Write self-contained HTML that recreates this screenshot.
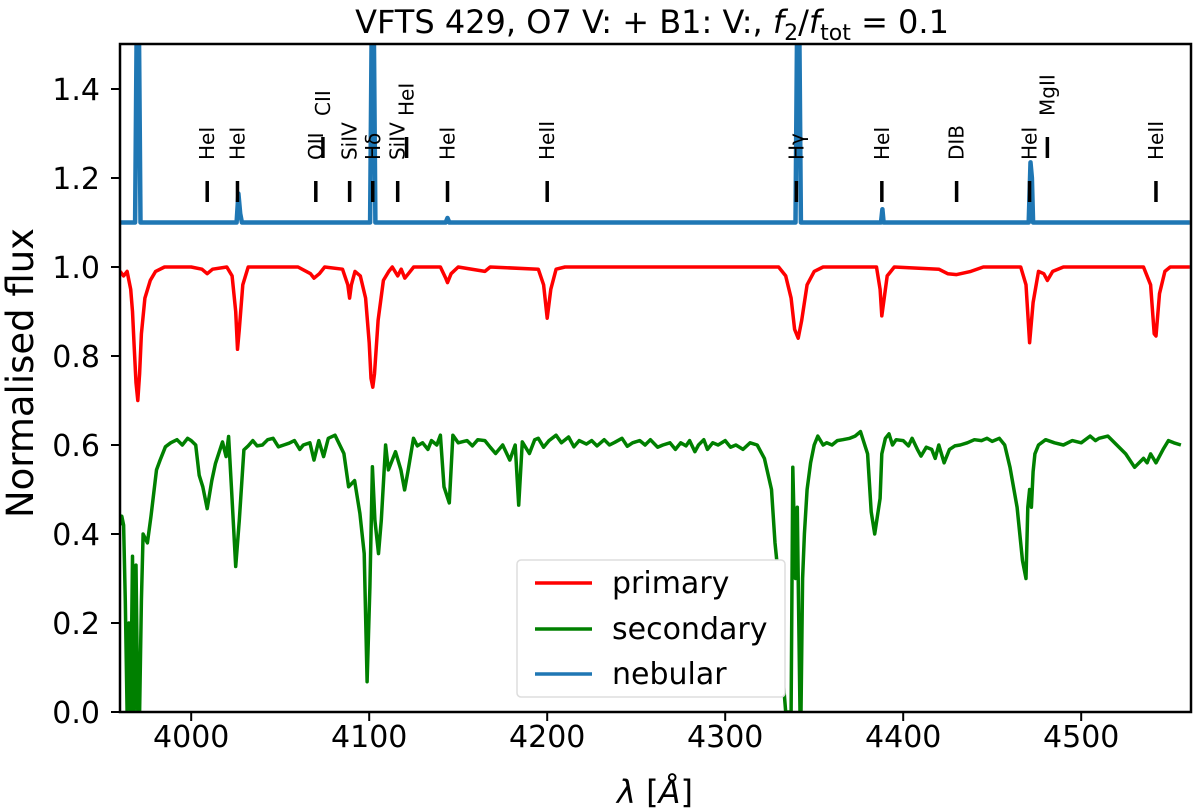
<!DOCTYPE html>
<html><head><meta charset="utf-8">
<style>
html,body{margin:0;padding:0;background:#fff;}
svg{display:block;font-family:"DejaVu Sans","Liberation Sans",sans-serif;}
</style></head>
<body>
<svg id="chart" width="1200" height="812" viewBox="0 0 1200 812">
<defs><clipPath id="clip"><rect x="120" y="44" width="1071" height="668"/></clipPath></defs>
<text x="652" y="33" text-anchor="middle" font-size="32">VFTS 429, O7 V: + B1: V:, <tspan font-style="italic">f</tspan><tspan font-size="22" dy="7">2</tspan><tspan dy="-7">/</tspan><tspan font-style="italic">f</tspan><tspan font-size="22" dy="7">tot</tspan><tspan dy="-7"> = 0.1</tspan></text>
<g id="plot" clip-path="url(#clip)"></g>
<g id="axes"></g>
<text x="33" y="373" transform="rotate(-90 33 373)" text-anchor="middle" font-size="37">Normalised flux</text>
<text x="655" y="803" text-anchor="middle" font-size="32"><tspan font-style="italic">λ</tspan> [<tspan font-style="italic">Å</tspan>]</text>
<g>
<rect x="517" y="560" width="268" height="137" rx="4" fill="#fff" stroke="#ddd" stroke-width="1.5"/>
<line x1="535" y1="583" x2="592" y2="583" stroke="#ff0000" stroke-width="3.5"/>
<text x="612" y="593" font-size="30">primary</text>
<line x1="535" y1="629" x2="592" y2="629" stroke="#008000" stroke-width="3.5"/>
<text x="612" y="639" font-size="30">secondary</text>
<line x1="535" y1="674" x2="592" y2="674" stroke="#1f77b4" stroke-width="3.5"/>
<text x="612" y="684" font-size="30">nebular</text>
</g>
</svg>
<script>
const primaryWave=[3960,3962,3964,3965,3966,3967,3968,3969,3970,3971,3972,3974,3977,3980,3985,4000,4006,4009,4012,4020,4023,4025,4026,4027,4029,4032,4060,4067,4069,4072,4075,4085,4088,4089,4090,4092,4095,4098,4100,4101,4102,4103,4105,4108,4111,4113,4116,4118,4120,4122,4125,4140,4143,4144,4146,4150,4165,4168,4195,4198,4200,4202,4205,4210,4330,4334,4337,4339,4341,4343,4346,4350,4355,4385,4387,4388,4389,4391,4395,4420,4425,4430,4438,4445,4466,4469,4471,4473,4476,4479,4481,4484,4490,4535,4539,4541,4542,4544,4547,4550,4561];
const primaryFlux=[0.99,0.98,0.99,0.97,0.95,0.90,0.82,0.74,0.70,0.76,0.85,0.93,0.97,0.99,1.0,1.0,0.995,0.985,0.995,1.0,0.98,0.90,0.815,0.86,0.96,1.0,1.0,0.985,0.975,0.985,1.0,0.995,0.96,0.93,0.96,0.99,0.98,0.93,0.83,0.75,0.73,0.76,0.88,0.97,0.99,1.0,0.98,0.995,0.975,0.985,1.0,1.0,0.975,0.965,0.985,1.0,0.99,1.0,0.995,0.96,0.885,0.95,0.995,1.0,1.0,0.98,0.93,0.86,0.84,0.88,0.96,0.99,1.0,1.0,0.95,0.89,0.92,0.98,1.0,0.995,0.985,0.983,0.99,1.0,1.0,0.96,0.83,0.92,0.99,0.985,0.97,0.99,1.0,1.0,0.96,0.85,0.845,0.94,0.99,1.0,1.0];
const secondaryWave=[3960,3961,3962,3963,3964,3965,3966,3967,3968,3969,3970,3971,3972,3973,3975.4,3977.4,3980.5,3982.5,3985.5,3988.5,3992,3995,3998,4000,4002.5,4004.5,4006.5,4009,4011.6,4013.6,4017.6,4019.6,4021,4022.6,4025,4027,4029.6,4032,4034.6,4037,4040,4043,4046,4049,4052,4055,4058,4061,4063,4066.7,4069,4071.7,4074.4,4077,4080.8,4085.8,4088.4,4091.8,4094.8,4097.2,4098.8,4100.4,4101.8,4103.2,4105.2,4106.8,4109.2,4110.8,4114.8,4117.8,4119.9,4121.9,4124.9,4127,4130,4133,4135,4138,4140,4142,4145,4147,4150,4155,4158,4161,4165,4168,4171,4175,4179,4182,4184,4186,4190,4193,4195,4198,4201,4205,4208,4212,4215,4218,4222,4225,4228,4232,4235,4238,4242,4245,4248,4252,4255,4258,4262,4265,4269,4272,4275,4278,4280,4283,4285,4288,4290,4293,4296,4300,4303,4306,4310,4314,4318,4322,4326,4328,4330,4332,4334,4336,4337,4338,4339.5,4340.5,4341,4342,4342.6,4343.5,4344.5,4346,4348,4350,4352,4355,4357,4360,4363,4366,4370,4373,4376,4380,4382,4384,4387,4388,4390,4392,4394,4396,4400,4403,4405,4408,4410,4413,4416,4418,4420,4423,4426,4429,4432,4436,4440,4444,4447,4450,4454,4457,4460,4464,4467,4469,4470,4471,4472,4473,4474,4476,4480,4485,4490,4495,4500,4505,4508,4510,4515,4520,4525,4530,4535,4537,4539,4542,4546,4549,4552,4556,4561];
const secondaryFlux=[0.42,0.44,0.42,0.25,0.0,0.2,0.0,0.35,0.0,0.33,0.0,0.0,0.25,0.40,0.38,0.44,0.544,0.566,0.596,0.605,0.612,0.600,0.615,0.61,0.60,0.532,0.506,0.457,0.52,0.558,0.607,0.574,0.619,0.506,0.327,0.431,0.589,0.598,0.61,0.598,0.60,0.612,0.615,0.596,0.60,0.604,0.61,0.59,0.60,0.605,0.566,0.61,0.574,0.615,0.622,0.581,0.506,0.52,0.446,0.356,0.068,0.281,0.551,0.431,0.356,0.431,0.60,0.544,0.585,0.544,0.499,0.544,0.615,0.598,0.605,0.590,0.61,0.600,0.622,0.506,0.47,0.622,0.605,0.61,0.598,0.612,0.61,0.595,0.581,0.60,0.566,0.60,0.465,0.607,0.581,0.612,0.615,0.595,0.61,0.622,0.605,0.618,0.596,0.61,0.602,0.61,0.598,0.612,0.60,0.606,0.615,0.597,0.605,0.61,0.60,0.612,0.595,0.6,0.605,0.59,0.605,0.598,0.61,0.585,0.60,0.612,0.59,0.605,0.6,0.61,0.595,0.60,0.59,0.605,0.60,0.57,0.50,0.38,0.30,0.10,0.0,0.0,0.0,0.55,0.30,0.46,0.30,0.0,0.0,0.30,0.40,0.50,0.56,0.60,0.62,0.60,0.605,0.60,0.61,0.612,0.615,0.62,0.63,0.58,0.45,0.40,0.48,0.58,0.615,0.625,0.60,0.612,0.61,0.598,0.615,0.59,0.575,0.595,0.59,0.57,0.60,0.56,0.59,0.598,0.60,0.605,0.612,0.61,0.615,0.608,0.615,0.6,0.55,0.46,0.34,0.30,0.46,0.50,0.46,0.54,0.58,0.60,0.612,0.605,0.60,0.61,0.605,0.62,0.61,0.615,0.62,0.60,0.58,0.55,0.57,0.56,0.58,0.56,0.59,0.61,0.605,0.60];
const nebularWave=[3960,3968.5,3969.5,3970.5,3971.5,4025.5,4026.5,4027.5,4028.5,4100.5,4101.5,4102.5,4103.5,4143,4144,4145,4339.5,4340.5,4341.5,4342.5,4387.5,4388.3,4389,4470.5,4471.5,4472.3,4473,4561];
const nebularFlux=[1.1,1.1,1.6,1.6,1.1,1.1,1.165,1.12,1.1,1.1,1.6,1.6,1.1,1.1,1.11,1.1,1.1,1.6,1.6,1.1,1.1,1.13,1.1,1.1,1.235,1.2,1.1,1.1];
const lineLabels=["HeI","HeI","OII","CII","SiIV","Hδ","SiIV","HeI","HeI","HeII","Hγ","HeI","DIB","HeI","MgII","HeII"];
const lineWaves=[4009,4026,4070,4074,4089,4102,4116,4121,4144,4200,4340,4388,4430,4471,4481,4542];
const lineRaised=[0,0,0,1,0,0,0,1,0,0,0,0,0,0,1,0];
const xTicks=[4000,4100,4200,4300,4400,4500];
const yTicks=[0.0,0.2,0.4,0.6,0.8,1.0,1.2,1.4];

const NS="http://www.w3.org/2000/svg";
const X=l=>120+(l-3960)*1.78;
const Y=f=>712-f*445;
const plot=document.getElementById('plot');
const axes=document.getElementById('axes');
function mk(tag,attrs,parent){const e=document.createElementNS(NS,tag);for(const k in attrs)e.setAttribute(k,attrs[k]);parent.appendChild(e);return e;}
function series(w,f,color,name,width){
  const d=w.map((l,i)=>(i?'L':'M')+X(l).toFixed(1)+','+Y(f[i]).toFixed(1)).join('');
  const p=mk('path',{d:d,fill:'none',stroke:color,'stroke-width':width,'stroke-linejoin':'round'},plot);
  
  
}
series(nebularWave,nebularFlux,'#1f77b4','nebular-line',4.5);
series(primaryWave,primaryFlux,'#ff0000','primary-line',3.5);
series(secondaryWave,secondaryFlux,'#008000','secondary-line',3.5);
lineWaves.forEach((l,i)=>{
  const x=X(l);
  const t0=lineRaised[i]?137:181, t1=lineRaised[i]?158:202;
  const tk=mk('line',{x1:x,y1:t0,x2:x,y2:t1,stroke:'#000','stroke-width':3.5},axes);
  
  
  const by=lineRaised[i]?116:160;
  const tx=mk('text',{x:x+7,y:by,'font-size':20,transform:`rotate(-90 ${x+7} ${by})`},axes);
  tx.textContent=lineLabels[i];
  
  
});
const frame=mk('rect',{x:120,y:44,width:1071,height:668,fill:'none',stroke:'#000','stroke-width':2.5},axes);


xTicks.forEach(v=>{
  const x=X(v);
  mk('line',{x1:x,y1:712,x2:x,y2:721,stroke:'#000','stroke-width':2},axes);
  const t=mk('text',{x:x,y:747,'text-anchor':'middle','font-size':30},axes);
  t.textContent=v;
  
  
});
yTicks.forEach(v=>{
  const y=Y(v);
  mk('line',{x1:111,y1:y,x2:120,y2:y,stroke:'#000','stroke-width':2},axes);
  const t=mk('text',{x:100,y:y+11,'text-anchor':'end','font-size':30},axes);
  t.textContent=v.toFixed(1);
  
  
});
</script>
</body></html>
